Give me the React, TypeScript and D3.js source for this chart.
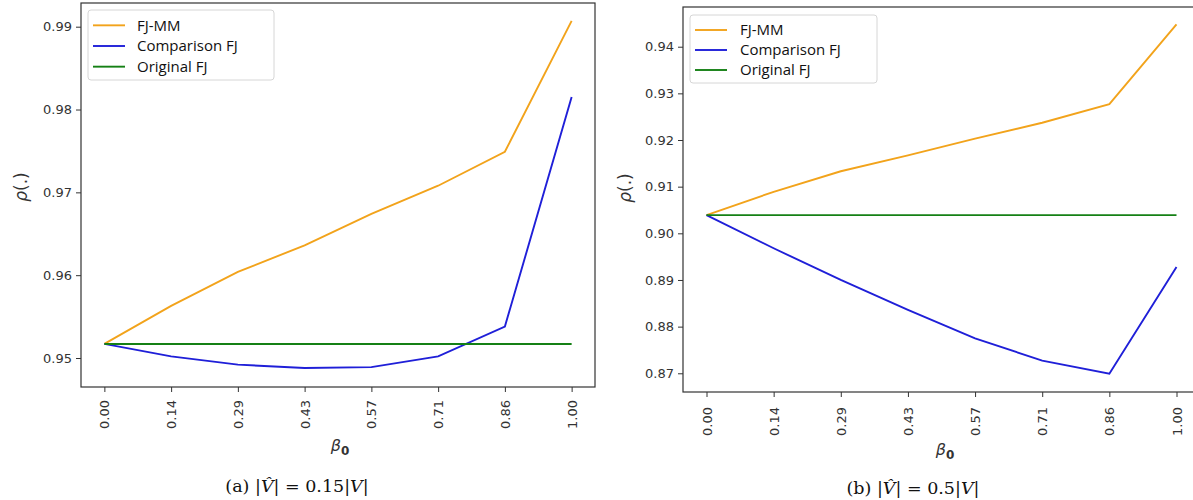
import * as React from 'react';
import { useRef, useEffect } from 'react';
import * as d3 from 'd3';

// beta_0 values (equally spaced, shown with two decimals)
const betaLabels = ['0.00', '0.14', '0.29', '0.43', '0.57', '0.71', '0.86', '1.00'];

// panel (a) |V^| = 0.15|V|
const fjmmA = [0.9517, 0.9563, 0.9604, 0.9636, 0.9674, 0.9708, 0.9749, 0.9907];
const compA = [0.9517, 0.9502, 0.9492, 0.9488, 0.9489, 0.9502, 0.9538, 0.9815];
const origA = [0.9517, 0.9517, 0.9517, 0.9517, 0.9517, 0.9517, 0.9517, 0.9517];
const yTicksA = [0.95, 0.96, 0.97, 0.98, 0.99];

// panel (b) |V^| = 0.5|V|
const fjmmB = [0.9039, 0.9089, 0.9133, 0.9167, 0.9203, 0.9237, 0.9277, 0.9448];
const compB = [0.9039, 0.8968, 0.8900, 0.8836, 0.8775, 0.8727, 0.8699, 0.8928];
const origB = [0.9039, 0.9039, 0.9039, 0.9039, 0.9039, 0.9039, 0.9039, 0.9039];
const yTicksB = [0.87, 0.88, 0.89, 0.90, 0.91, 0.92, 0.93, 0.94];

const seriesNames = ['FJ-MM', 'Comparison FJ', 'Original FJ'];
const seriesColors = ['#f2a31b', '#1f1fd8', '#158015'];

interface PanelProps {
  series: number[][];
  yTicks: number[];
  yDomain: [number, number];
  box: { left: number; top: number; right: number; bottom: number };
  legend: { x: number; y: number; w: number; h: number; textX: number };
  yLabelPos: [number, number];
  xLabelPos: [number, number];
  xTickGap: number;
}

const Panel: React.FC<PanelProps> = ({ series, yTicks, yDomain, box, legend, yLabelPos, xLabelPos, xTickGap }) => {
  const gRef = useRef<SVGGElement>(null);

  useEffect(() => {
    if (!gRef.current) return;
    const g = d3.select(gRef.current);
    g.selectAll('*').remove();

    const n = betaLabels.length - 1;
    const pad = n * 0.05;
    const x = d3.scaleLinear().domain([-pad, n + pad]).range([box.left, box.right]);
    const y = d3.scaleLinear().domain(yDomain).range([box.bottom, box.top]);

    // y axis
    const ya = g.append('g')
      .attr('transform', `translate(${box.left},0)`)
      .call(d3.axisLeft(y).tickValues(yTicks).tickFormat(d3.format('.2f')).tickSize(5).tickPadding(4));
    ya.select('.domain').remove();
    ya.selectAll('line').attr('stroke', '#333').attr('stroke-width', 1);
    ya.selectAll('text').attr('font-family', 'DejaVu Sans').attr('font-size', 13).attr('fill', '#333');

    // x axis with vertical labels
    const xa = g.append('g')
      .attr('transform', `translate(0,${box.bottom})`)
      .call(d3.axisBottom(x).tickValues(d3.range(betaLabels.length)).tickFormat((_, i) => betaLabels[i]).tickSize(5));
    xa.select('.domain').remove();
    xa.selectAll('line').attr('stroke', '#333').attr('stroke-width', 1);
    xa.selectAll('text')
      .attr('font-family', 'DejaVu Sans').attr('font-size', 13).attr('fill', '#333')
      .attr('text-anchor', 'end')
      .attr('y', 0).attr('dy', '0.35em')
      .attr('transform', `translate(0,${xTickGap}) rotate(-90)`);

    // lines
    const line = d3.line<number>().x((_, i) => x(i)).y(d => y(d));
    series.forEach((s, k) => {
      g.append('path')
        .datum(s)
        .attr('d', line)
        .attr('fill', 'none')
        .attr('stroke', seriesColors[k])
        .attr('stroke-width', 1.9);
    });

    // frame
    g.append('rect')
      .attr('x', box.left).attr('y', box.top)
      .attr('width', box.right - box.left).attr('height', box.bottom - box.top)
      .attr('fill', 'none').attr('stroke', '#333').attr('stroke-width', 1.2);

    // legend
    const lg = g.append('g');
    lg.append('rect')
      .attr('x', legend.x).attr('y', legend.y).attr('width', legend.w).attr('height', legend.h)
      .attr('rx', 3).attr('fill', 'white').attr('fill-opacity', 0.85)
      .attr('stroke', '#d6d6d6');
    const rowH = (legend.h - 8) / 3;
    seriesNames.forEach((name, k) => {
      const cy = legend.y + 4 + rowH * (k + 0.5) + 1;
      lg.append('line')
        .attr('x1', legend.x + 5).attr('x2', legend.x + 37)
        .attr('y1', cy).attr('y2', cy)
        .attr('stroke', seriesColors[k]).attr('stroke-width', 1.9);
      lg.append('text')
        .attr('x', legend.textX).attr('y', cy).attr('dy', '0.35em')
        .attr('font-family', 'Open Sans').attr('font-size', 15).attr('fill', '#111')
        .text(name);
    });

    // y label
    const yl = g.append('text')
      .attr('transform', `translate(${yLabelPos[0]},${yLabelPos[1]}) rotate(-90)`)
      .attr('text-anchor', 'middle')
      .attr('font-family', 'DejaVu Sans').attr('font-size', 17).attr('fill', '#333');
    yl.append('tspan').attr('font-style', 'italic').text('ρ');
    yl.append('tspan').text('(.)');

    // x label
    const xl = g.append('text')
      .attr('x', xLabelPos[0]).attr('y', xLabelPos[1])
      .attr('text-anchor', 'middle')
      .attr('font-family', 'DejaVu Sans').attr('font-size', 16).attr('fill', '#333');
    xl.append('tspan').attr('font-style', 'italic').text('β');
    xl.append('tspan').attr('font-weight', 'bold').attr('font-size', 12).attr('dy', 4).text('0');
  }, [series, yTicks, yDomain, box, legend, yLabelPos, xLabelPos, xTickGap]);

  return <g ref={gRef} />;
};

const Caption: React.FC<{ x: number; y: number; tag: string; frac: string }> = ({ x, y, tag, frac }) => (
  <text x={x} y={y} textAnchor="middle" fontFamily="DejaVu Serif" fontSize={17.5} fill="#111">
    <tspan>({tag})  |</tspan>
    <tspan fontStyle="italic">V̂</tspan>
    <tspan>| = {frac}|</tspan>
    <tspan fontStyle="italic">V</tspan>
    <tspan>|</tspan>
  </text>
);

const App: React.FC = () => {
  return (
    <svg width={1193} height={500} style={{ position: 'absolute', left: 0, top: 0, background: 'white' }}>
      <Panel
        series={[fjmmA, compA, origA]}
        yTicks={yTicksA}
        yDomain={[0.9465, 0.99286]}
        box={{ left: 81, top: 3, right: 595, bottom: 387 }}
        legend={{ x: 88, y: 10, w: 186, h: 70, textX: 137 }}
        yLabelPos={[27, 187]}
        xLabelPos={[340, 451]}
        xTickGap={13}
      />
      <Panel
        series={[fjmmB, compB, origB]}
        yTicks={yTicksB}
        yDomain={[0.86599, 0.94851]}
        box={{ left: 683, top: 7, right: 1200, bottom: 392 }}
        legend={{ x: 690, y: 15, w: 187, h: 68, textX: 740 }}
        yLabelPos={[631, 188]}
        xLabelPos={[945, 455]}
        xTickGap={15}
      />
      <Caption x={297} y={492} tag="a" frac="0.15" />
      <Caption x={913} y={494} tag="b" frac="0.5" />
    </svg>
  );
};

export default App;
